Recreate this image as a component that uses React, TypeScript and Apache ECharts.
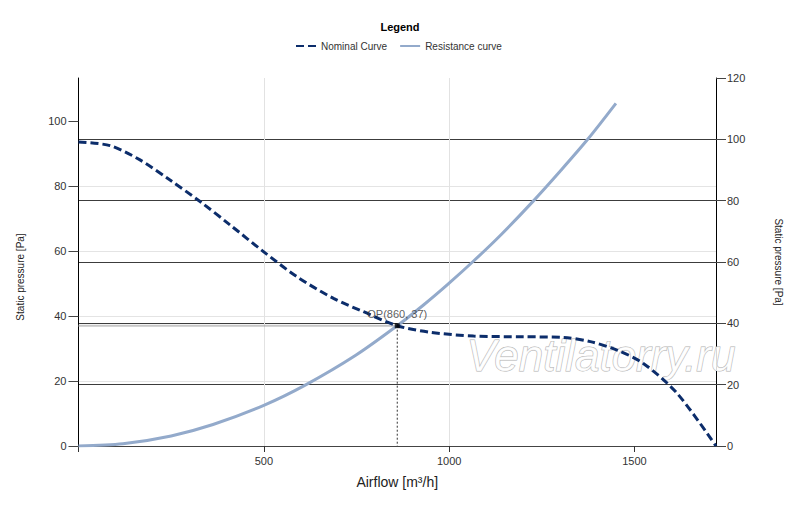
import React, { useEffect, useRef } from "react";
import * as echarts from "echarts";

const nominalAirflow = [0, 85, 166, 247, 328, 409, 499, 589, 688, 769, 860, 949, 1066, 1200, 1309, 1381, 1453, 1524, 1615, 1720];
const nominalPressure = [93.5, 92.4, 88, 81.8, 75.2, 68, 59.8, 52.1, 45.4, 41.3, 37, 35, 33.8, 33.6, 33.4, 32.1, 29.5, 25.4, 16.2, 0];

const resistanceAirflow = [0, 120, 250, 363, 500, 613, 748, 860, 930, 997, 1066, 1140, 1225, 1300, 1375, 1450];
const resistancePressure = [0, 0.7, 3.1, 6.6, 12.5, 18.8, 27.9, 37, 43.3, 49.8, 56.9, 65, 75.1, 84.6, 94.5, 105.4];

const opPoint = [860, 37];

const xTickValues = [0, 500, 1000, 1500];
const xLabelValues = [500, 1000, 1500];
const leftTickValues = [0, 20, 40, 60, 80, 100];

const FONT = '"Liberation Sans", Arial, sans-serif';

export default function App() {
  const ref = useRef<HTMLDivElement>(null);

  useEffect(() => {
    document.body.style.margin = "0";
    if (!ref.current) return;
    const chart = echarts.init(ref.current, undefined, { renderer: "svg" });

    const nominal = nominalAirflow.map((x, i) => [x, nominalPressure[i]]);
    const resistance = resistanceAirflow.map((x, i) => [x, resistancePressure[i]]);

    chart.setOption({
      animation: false,
      backgroundColor: "#fff",
      textStyle: { fontFamily: FONT },
      title: {
        text: "Legend",
        left: "center",
        top: 16,
        textStyle: { fontSize: 11, fontWeight: "bold", color: "#000", fontFamily: FONT },
      },
      legend: {
        data: ["Nominal Curve", "Resistance curve"],
        left: 290,
        top: 36,
        itemWidth: 20,
        itemHeight: 10,
        itemGap: 12,
        itemStyle: { opacity: 0, color: "transparent", borderWidth: 0 },
        textStyle: { fontSize: 10, color: "#333", fontFamily: FONT },
      },
      grid: { left: 78.5, right: 84, top: 78, bottom: 61, containLabel: false },
      graphic: [
        {
          type: "text",
          left: 466,
          top: 333,
          silent: true,
          z: 1,
          style: {
            text: "Ventilatorry.ru",
            font: `italic 44px ${FONT}`,
            lineHeight: 32,
            fill: "rgba(255,255,255,0.85)",
            stroke: "#b0b0b0",
            lineWidth: 1,
          },
        },
        {
          type: "text",
          x: 20,
          y: 277,
          rotation: Math.PI / 2,
          silent: true,
          style: {
            text: "Static pressure [Pa]",
            font: `10px ${FONT}`,
            fill: "#222",
            align: "center",
            verticalAlign: "middle",
          },
        },
      ],
      xAxis: {
        type: "value",
        min: 0,
        max: 1720,
        interval: 500,
        name: "Airflow [m³/h]",
        nameLocation: "middle",
        nameGap: 29,
        nameTextStyle: { fontSize: 14, color: "#222", fontFamily: FONT },
        axisLine: { show: true, onZero: false, lineStyle: { color: "#444", width: 1 } },
        axisTick: { show: true, length: 6, customValues: xTickValues, lineStyle: { color: "#333" } },
        axisLabel: {
          customValues: xLabelValues,
          formatter: (v: number) => String(v),
          margin: 9,
          fontSize: 11,
          color: "#333",
          fontFamily: FONT,
        },
        splitLine: { show: true, showMinLine: false, showMaxLine: false, lineStyle: { color: "#e2e2e2", width: 1 } },
      },
      yAxis: [
        {
          type: "value",
          position: "left",
          min: 0,
          max: 113.2,
          interval: 20,
          axisLine: { show: true, lineStyle: { color: "#000", width: 1 } },
          axisTick: { show: true, length: 10, customValues: leftTickValues, lineStyle: { color: "#444" } },
          axisLabel: { customValues: leftTickValues, margin: 12, fontSize: 11, color: "#333", fontFamily: FONT },
          splitLine: { show: true, showMinLine: false, showMaxLine: false, lineStyle: { color: "#e4e4e4", width: 1 } },
        },
        {
          type: "value",
          position: "right",
          min: 0,
          max: 120,
          interval: 20,
          name: "Static pressure [Pa]",
          nameLocation: "middle",
          nameRotate: -90,
          nameGap: 57,
          nameTextStyle: { fontSize: 10, color: "#222", fontFamily: FONT },
          axisLine: { show: true, lineStyle: { color: "#000", width: 1 } },
          axisTick: { show: true, length: 10, lineStyle: { color: "#444" } },
          axisLabel: { margin: 11, fontSize: 11, color: "#333", fontFamily: FONT },
          splitLine: { show: true, showMinLine: false, showMaxLine: false, lineStyle: { color: "#3c3c3c", width: 1 } },
        },
      ],
      series: [
        {
          name: "OP horizontal",
          type: "line",
          yAxisIndex: 0,
          data: [[0, opPoint[1]], [opPoint[0], opPoint[1]]],
          symbol: "none",
          silent: true,
          z: 2,
          lineStyle: { color: "#8c8c8c", width: 2, type: [1, 1] },
        },
        {
          name: "OP vertical",
          type: "line",
          yAxisIndex: 0,
          data: [[opPoint[0], opPoint[1]], [opPoint[0], 0]],
          symbol: "none",
          silent: true,
          z: 2,
          lineStyle: { color: "#333", width: 1, type: [2, 2] },
        },
        {
          name: "Resistance curve",
          type: "line",
          yAxisIndex: 0,
          data: resistance,
          smooth: 0.3,
          symbol: "none",
          z: 3,
          color: "#93aacb",
          lineStyle: { color: "#93aacb", width: 3 },
        },
        {
          name: "Nominal Curve",
          type: "line",
          yAxisIndex: 0,
          data: nominal,
          smooth: 0.3,
          symbol: "none",
          z: 4,
          color: "#0c2d6b",
          lineStyle: { color: "#0c2d6b", width: 3, type: [8, 4] },
        },
        {
          name: "OP",
          type: "scatter",
          yAxisIndex: 0,
          data: [opPoint],
          symbol: "rect",
          symbolSize: 5,
          z: 5,
          itemStyle: { color: "#000" },
          label: {
            show: true,
            position: "top",
            distance: 4,
            formatter: () => `OP(${opPoint[0]}, ${opPoint[1]})`,
            fontSize: 11,
            color: "#333",
            fontFamily: FONT,
          },
        },
      ],
    });

    return () => chart.dispose();
  }, []);

  return <div ref={ref} style={{ width: 800, height: 507 }} />;
}
